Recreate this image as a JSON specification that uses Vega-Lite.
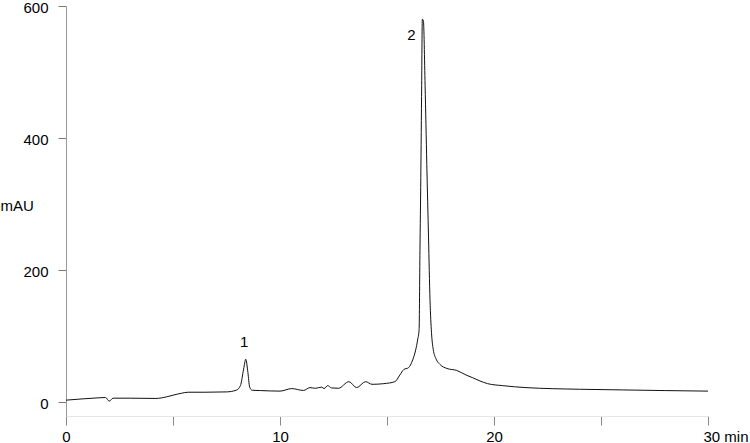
{
  "$schema": "https://vega.github.io/schema/vega-lite/v6.json",
  "width": 642,
  "height": 410,
  "autosize": "none",
  "padding": {"left": 66, "top": 6, "right": 42, "bottom": 27},
  "background": "white",
  "config": {
    "view": {"stroke": null},
    "font": "Liberation Sans",
    "axis": {"grid": false, "labelFont": "Liberation Sans", "titleFont": "Liberation Sans", "labelColor": "#000", "titleColor": "#000"}
  },
  "datasets": {
    "trace": [
      {"t": 0.0, "mAU": 3}, {"t": 0.8, "mAU": 5}, {"t": 1.5, "mAU": 6.5}, {"t": 1.85, "mAU": 7},
      {"t": 2.02, "mAU": 1.5}, {"t": 2.2, "mAU": 6}, {"t": 3.0, "mAU": 6}, {"t": 4.2, "mAU": 5.6},
      {"t": 4.7, "mAU": 8}, {"t": 5.0, "mAU": 10.5}, {"t": 5.4, "mAU": 13.5}, {"t": 5.7, "mAU": 15},
      {"t": 6.5, "mAU": 15}, {"t": 7.5, "mAU": 15.5}, {"t": 7.95, "mAU": 18}, {"t": 8.15, "mAU": 25},
      {"t": 8.3, "mAU": 50}, {"t": 8.4, "mAU": 65}, {"t": 8.5, "mAU": 45}, {"t": 8.58, "mAU": 23},
      {"t": 8.7, "mAU": 18}, {"t": 9.1, "mAU": 17.5}, {"t": 10.0, "mAU": 16.7}, {"t": 10.55, "mAU": 20.5},
      {"t": 11.1, "mAU": 17.7}, {"t": 11.4, "mAU": 22}, {"t": 11.65, "mAU": 21}, {"t": 11.95, "mAU": 22.7},
      {"t": 12.06, "mAU": 20.5}, {"t": 12.23, "mAU": 25}, {"t": 12.41, "mAU": 21.5}, {"t": 12.73, "mAU": 21},
      {"t": 13.22, "mAU": 31}, {"t": 13.58, "mAU": 22}, {"t": 14.0, "mAU": 31}, {"t": 14.3, "mAU": 27},
      {"t": 14.85, "mAU": 28}, {"t": 15.37, "mAU": 31}, {"t": 15.6, "mAU": 41}, {"t": 15.79, "mAU": 49.5},
      {"t": 16.0, "mAU": 52}, {"t": 16.2, "mAU": 64}, {"t": 16.34, "mAU": 79}, {"t": 16.43, "mAU": 94},
      {"t": 16.5, "mAU": 110}, {"t": 16.54, "mAU": 230}, {"t": 16.58, "mAU": 340}, {"t": 16.62, "mAU": 480},
      {"t": 16.65, "mAU": 580}, {"t": 16.7, "mAU": 578}, {"t": 16.78, "mAU": 480}, {"t": 16.86, "mAU": 360},
      {"t": 16.94, "mAU": 250}, {"t": 17.01, "mAU": 155}, {"t": 17.08, "mAU": 105}, {"t": 17.16, "mAU": 80},
      {"t": 17.3, "mAU": 65}, {"t": 17.48, "mAU": 57}, {"t": 17.8, "mAU": 51}, {"t": 18.26, "mAU": 48},
      {"t": 18.7, "mAU": 41}, {"t": 19.0, "mAU": 37}, {"t": 19.35, "mAU": 32}, {"t": 19.7, "mAU": 28},
      {"t": 20.4, "mAU": 25}, {"t": 21.5, "mAU": 22}, {"t": 24.0, "mAU": 19.5}, {"t": 26.0, "mAU": 18.5},
      {"t": 28.0, "mAU": 17.5}, {"t": 30.0, "mAU": 16.7}
    ],
    "peaks": [
      {"t": 8.32, "mAU": 91.7, "label": "1"},
      {"t": 16.14, "mAU": 556.5, "label": "2"}
    ]
  },
  "layer": [
    {
      "data": {"name": "trace"},
      "mark": {"type": "line", "color": "#111", "strokeWidth": 1, "interpolate": "monotone"},
      "encoding": {
        "x": {
          "field": "t", "type": "quantitative",
          "scale": {"domain": [0, 30], "nice": false, "zero": false},
          "axis": {
            "values": [0, 5, 10, 15, 20, 25, 30],
            "labelExpr": "datum.value == 30 ? '30 min' : (datum.value % 10 == 0 ? datum.label : '')",
            "labelAlign": {"condition": {"test": "datum.value == 30", "value": "left"}, "value": "center"},
            "labelOffset": {"condition": {"test": "datum.value == 30", "value": -5}, "value": 0},
            "labelFontSize": 15,
            "labelPadding": 4,
            "tickSize": 9,
            "tickColor": "#888",
            "domainColor": "#e6e6e6",
            "title": null,
            "labelFlush": false,
            "labelOverlap": false
          }
        },
        "y": {
          "field": "mAU", "type": "quantitative",
          "scale": {"domain": [-21, 600], "nice": false, "zero": false},
          "axis": {
            "values": [0, 200, 400, 600],
            "labelFontSize": 15,
            "labelPadding": 10,
            "labelOffset": 1.5,
            "labelFlush": false,
            "tickSize": 8,
            "tickColor": "#777",
            "domainColor": "#999",
            "title": "mAU",
            "titleAngle": 0,
            "titleFontSize": 15,
            "titleFontWeight": "normal",
            "titleAlign": "left",
            "titleBaseline": "middle",
            "titleX": -66,
            "titleY": 199
          }
        }
      }
    },
    {
      "data": {"name": "peaks"},
      "mark": {"type": "text", "fontSize": 15, "color": "#000", "baseline": "middle", "align": "center", "font": "Liberation Sans"},
      "encoding": {
        "x": {"field": "t", "type": "quantitative"},
        "y": {"field": "mAU", "type": "quantitative"},
        "text": {"field": "label"}
      }
    }
  ]
}
